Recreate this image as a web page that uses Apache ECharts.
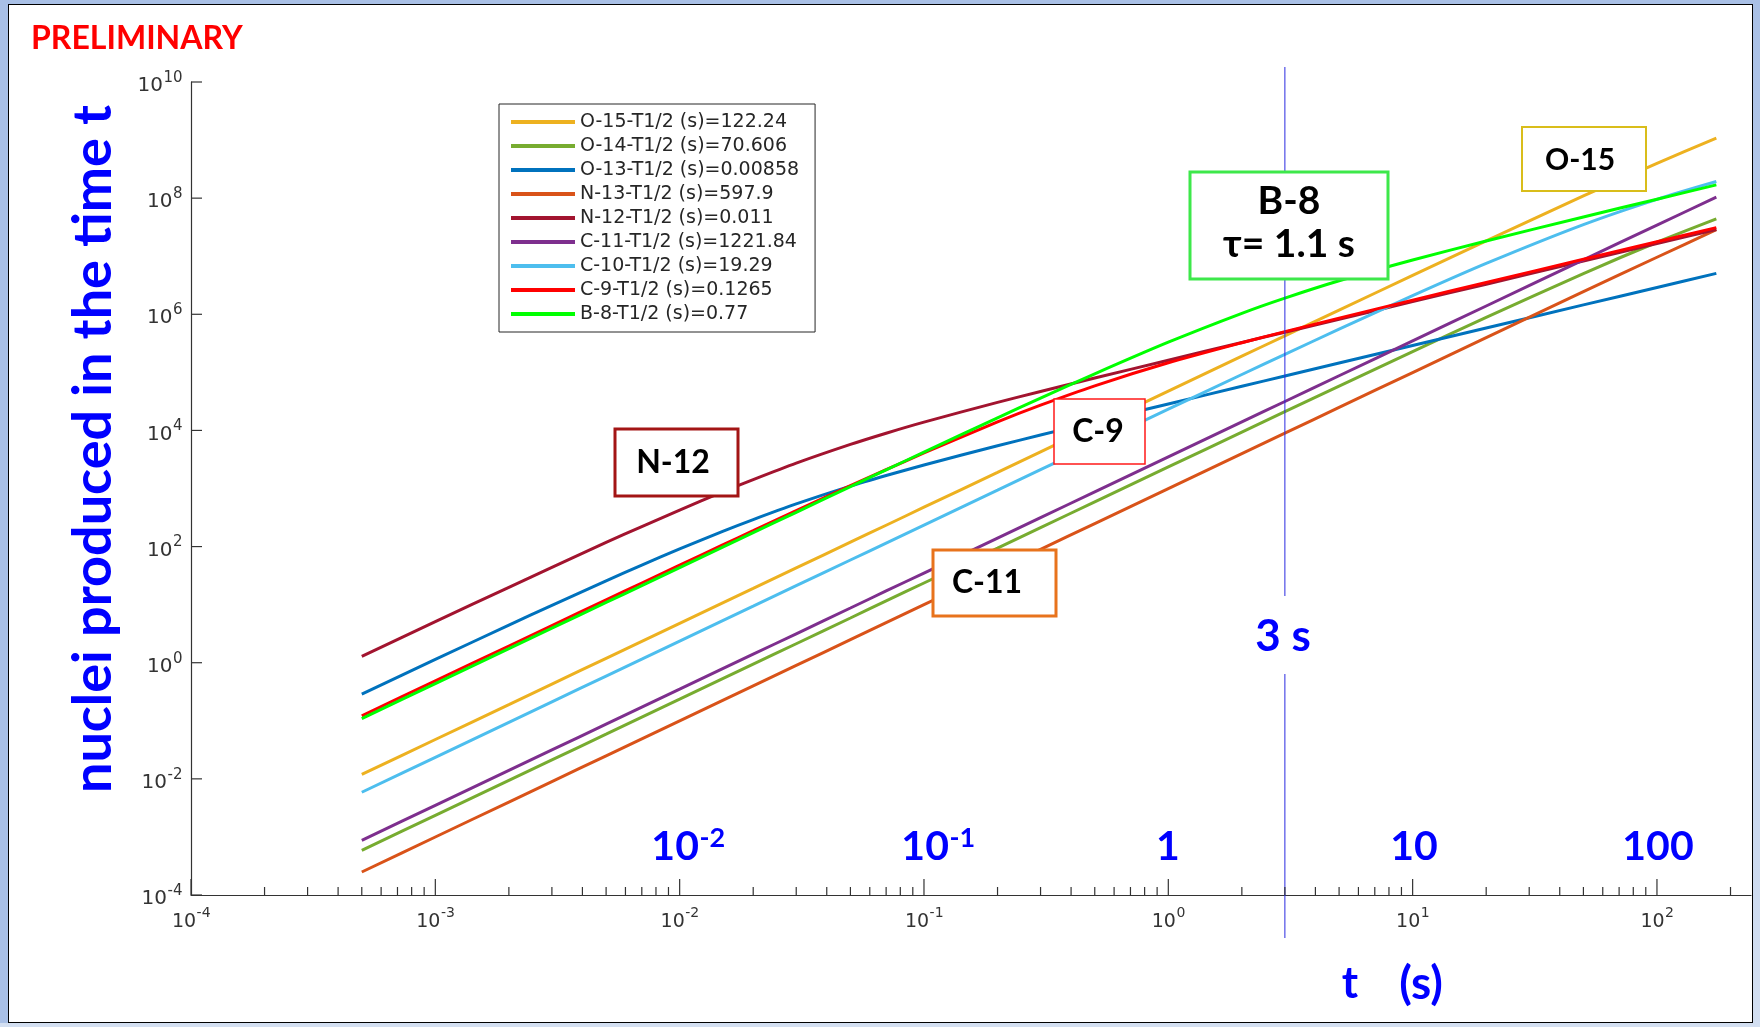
<!DOCTYPE html>
<html>
<head>
<meta charset="utf-8">
<script src="https://cdn.jsdelivr.net/npm/echarts@6/dist/echarts.min.js"></script>
<style>
html,body{margin:0;padding:0;width:1760px;height:1027px;overflow:hidden;background:#a9c0e6;}
#frame{position:absolute;left:8px;top:4px;width:1745px;height:1019px;box-sizing:border-box;background:#fff;border:1px solid #000;}
#bottomStrip{position:absolute;left:0;top:1023px;width:1760px;height:4px;background:#d3dff1;}
#rightStrip{position:absolute;left:1753px;top:0;width:7px;height:1027px;background:linear-gradient(#a9c0e6,#d3dff1);}
#chart{position:absolute;left:0;top:0;width:1760px;height:1027px;}
</style>
</head>
<body>
<div id="frame"></div>
<div id="bottomStrip"></div>
<div id="rightStrip"></div>
<div id="chart"></div>
<script>
// ---------------- data ----------------
const TIMES = [5e-4, 1e-3, 2e-3, 3e-3, 5e-3, 7e-3, 1e-2, 1.5e-2, 2e-2, 3e-2, 5e-2, 7e-2, 0.1, 0.2, 0.3, 0.5, 1, 2, 3, 5, 10, 20, 50, 100, 175];

const NAMES = [
  'O-15-T1/2 (s)=122.24',
  'O-14-T1/2 (s)=70.606',
  'O-13-T1/2 (s)=0.00858',
  'N-13-T1/2 (s)=597.9',
  'N-12-T1/2 (s)=0.011',
  'C-11-T1/2 (s)=1221.84',
  'C-10-T1/2 (s)=19.29',
  'C-9-T1/2 (s)=0.1265',
  'B-8-T1/2 (s)=0.77'
];

const O15 = [0.0119, 0.0476, 0.190, 0.429, 1.19, 2.33, 4.76, 10.7, 19.0, 42.9, 119, 233, 476, 1.90e3, 4.29e3, 1.19e4, 4.75e4, 1.90e5, 4.26e5, 1.18e6, 4.67e6, 1.84e7, 1.09e8, 3.98e8, 1.08e9];
const O14 = [5.89e-4, 2.36e-3, 9.43e-3, 0.0212, 0.0589, 0.116, 0.236, 0.530, 0.943, 2.12, 5.89, 11.6, 23.6, 94.2, 212, 588, 2.35e3, 9.36e3, 2.10e4, 5.80e4, 2.28e5, 8.84e5, 5.03e6, 1.74e7, 4.39e7];
const O13 = [0.289, 1.14, 4.44, 9.74, 25.7, 47.9, 91.0, 183, 292, 543, 1.10e3, 1.67e3, 2.54e3, 5.44e3, 8.34e3, 1.41e4, 2.86e4, 5.76e4, 8.66e4, 1.45e5, 2.90e5, 5.80e5, 1.45e6, 2.90e6, 5.07e6];
const N13 = [2.49e-4, 9.97e-4, 3.99e-3, 8.97e-3, 0.0249, 0.0489, 0.0997, 0.224, 0.399, 0.897, 2.49, 4.89, 9.97, 39.9, 89.7, 249, 997, 3.99e3, 8.96e3, 2.49e4, 9.93e4, 3.96e5, 2.45e6, 9.60e6, 2.86e7];
const N12 = [1.29, 5.09, 19.9, 44.0, 118, 221, 426, 874, 1.42e3, 2.73e3, 5.74e3, 8.96e3, 1.39e4, 3.04e4, 4.69e4, 7.99e4, 1.62e5, 3.27e5, 4.92e5, 8.22e5, 1.65e6, 3.30e6, 8.25e6, 1.65e7, 2.89e7];
const C11 = [8.75e-4, 3.5e-3, 0.014, 0.0315, 0.0875, 0.172, 0.35, 0.788, 1.40, 3.15, 8.75, 17.2, 35.0, 140, 315, 875, 3.50e3, 1.40e4, 3.15e4, 8.74e4, 3.49e5, 1.39e6, 8.67e6, 3.43e7, 1.04e8];
const C10 = [5.88e-3, 0.0235, 0.094, 0.212, 0.588, 1.15, 2.35, 5.29, 9.40, 21.2, 58.7, 115, 235, 938, 2.11e3, 5.84e3, 2.32e4, 9.18e4, 2.04e5, 5.54e5, 2.09e6, 7.50e6, 3.50e7, 9.54e7, 1.93e8];
const C9  = [0.122, 0.487, 1.94, 4.37, 12.1, 23.6, 47.9, 107, 188, 416, 1.12e3, 2.11e3, 4.09e3, 1.40e4, 2.72e4, 5.86e4, 1.46e5, 3.24e5, 5.02e5, 8.58e5, 1.75e6, 3.53e6, 8.87e6, 1.78e7, 3.11e7];
const B8  = [0.109, 0.437, 1.75, 3.93, 10.9, 21.3, 43.5, 97.8, 174, 389, 1.08e3, 2.09e3, 4.24e3, 1.65e4, 3.60e4, 9.45e4, 3.31e5, 1.04e6, 1.90e6, 3.78e6, 8.62e6, 1.83e7, 4.74e7, 9.59e7, 1.69e8];

const VALUES = [O15, O14, O13, N13, N12, C11, C10, C9, B8];

const X_DECADES = [1e-4, 1e-3, 1e-2, 1e-1, 1, 10, 100];
const X_DECADE_EXP = ['-4', '-3', '-2', '-1', '0', '1', '2'];
const X_MINOR_STEPS = [2, 3, 4, 5, 6, 7, 8, 9];
const Y_TICKS = [1e-4, 1e-2, 1, 1e2, 1e4, 1e6, 1e8, 1e10];
const Y_TICK_EXP = ['-4', '-2', '0', '2', '4', '6', '8', '10'];
const X_MIN = 1e-4, X_MAX = 242.6, Y_MIN = 1e-4, Y_MAX = 1e10;
const MARK_TIME = 3;   // the "3 s" marker line

// ---------------- styles ----------------
const COLORS = ['#EDB120', '#77AC30', '#0072BD', '#D95319', '#A2142F', '#7E2F8E', '#4DBEEE', '#FF0000', '#00FF00'];
const AXIS_COLOR = '#333333';
const BLUE = '#0000ff';
const SANS = 'DejaVu Sans';
const BIG = 'Lato';

const mctx = document.createElement('canvas').getContext('2d');
function fontStr(weight, size, family) { return weight + ' ' + size + 'px "' + family + '"'; }
function tw(text, weight, size, family) { mctx.font = fontStr(weight, size, family); return mctx.measureText(text).width; }

function txt(x, y, text, weight, size, family, fill, align, valign, extra) {
  return Object.assign({
    type: 'text', x: x, y: y,
    style: { text: text, font: fontStr(weight, size, family),
             fill: fill, align: align, textAlign: align,
             verticalAlign: valign, textVerticalAlign: valign }
  }, extra || {});
}

// base + superscript label; anchor = 'center' or 'right'
function supLabel(ax, cy, base, sup, weight, bs, ss, family, color, anchor, rise, extra) {
  const wb = tw(base, weight, bs, family), ws = tw(sup, weight, ss, family);
  const W = wb + ws;
  const left = anchor === 'center' ? ax - W / 2 : ax - W;
  return Object.assign({
    type: 'group',
    children: [
      txt(left, cy, base, weight, bs, family, color, 'left', 'middle'),
      txt(left + wb + 0.5, cy - rise, sup, weight, ss, family, color, 'left', 'middle')
    ]
  }, extra || {});
}

const xMinor = [];
X_DECADES.forEach(d => X_MINOR_STEPS.forEach(m => { if (d * m <= X_MAX) xMinor.push(d * m); }));

const lineSeries = NAMES.map((name, i) => ({
  name: name,
  type: 'line',
  data: TIMES.map((t, k) => [t, VALUES[i][k]]),
  showSymbol: false,
  symbol: 'none',
  smooth: 0.25,
  lineStyle: { width: 3, color: COLORS[i] },
  itemStyle: { color: COLORS[i] },
  z: 2 + i * 0.01,
  animation: false
}));

function tickSeries(data, dx, dy) {
  return {
    type: 'custom', coordinateSystem: 'cartesian2d', silent: true, clip: false, z: 5,
    data: data,
    renderItem: (params, api) => {
      const p = api.coord([api.value(0), api.value(1)]);
      return { type: 'line', shape: { x1: p[0], y1: p[1], x2: p[0] + dx, y2: p[1] + dy },
               style: { stroke: AXIS_COLOR, lineWidth: 1.2 } };
    }
  };
}
const xMajorTickSeries = tickSeries(X_DECADES.map(t => [t, Y_MIN]), 0, -16);
const xMinorTickSeries = tickSeries(xMinor.map(t => [t, Y_MIN]), 0, -8);
const yTickSeries = tickSeries(Y_TICKS.map(v => [X_MIN, v]), 11, 0);

const markSeries = {
  type: 'custom', coordinateSystem: 'cartesian2d', silent: true, clip: false, z: 3,
  data: [[MARK_TIME, 1]],
  renderItem: (params, api) => {
    const p = api.coord([api.value(0), api.value(1)]);
    const st = { stroke: '#2a2ae0', lineWidth: 1 };
    return { type: 'group', children: [
      { type: 'line', shape: { x1: p[0], y1: 67, x2: p[0], y2: 596 }, style: st },
      { type: 'line', shape: { x1: p[0], y1: 674, x2: p[0], y2: 938 }, style: st }
    ] };
  }
};

function box(x1, y1, x2, y2, color, lw) {
  return { type: 'rect', z: 100, shape: { x: x1, y: y1, width: x2 - x1, height: y2 - y1 },
           style: { fill: '#ffffff', stroke: color, lineWidth: lw } };
}
const Z = { z: 101 };
const graphics = [
  txt(31, 39, 'PRELIMINARY', 'bold', 32, BIG, '#ff0000', 'left', 'middle', Z),
  txt(94, 449, 'nuclei produced in the time t', 'bold', 54, BIG, BLUE, 'center', 'middle', { z: 101, rotation: Math.PI / 2 }),
  txt(1283, 637, '3 s', 'bold', 44, BIG, BLUE, 'center', 'middle', Z),
  txt(1350, 984, 't', 'bold', 44, BIG, BLUE, 'center', 'middle', Z),
  txt(1421, 984, '(s)', 'bold', 46, BIG, BLUE, 'center', 'middle', Z),
  supLabel(688, 847, '10', '-2', 'bold', 41, 27, BIG, BLUE, 'center', 9, Z),
  supLabel(938, 847, '10', '-1', 'bold', 41, 27, BIG, BLUE, 'center', 9, Z),
  txt(1168, 847, '1', 'bold', 41, BIG, BLUE, 'center', 'middle', Z),
  txt(1414, 847, '10', 'bold', 41, BIG, BLUE, 'center', 'middle', Z),
  txt(1658, 847, '100', 'bold', 41, BIG, BLUE, 'center', 'middle', Z),
  // annotation boxes
  box(615, 429, 738, 496, '#a31515', 3),
  txt(673, 463, 'N-12', 'bold', 32, BIG, '#000', 'center', 'middle', Z),
  box(1054, 399, 1145, 464, '#ff1a1a', 1.5),
  txt(1098, 432, 'C-9', 'bold', 32, BIG, '#000', 'center', 'middle', Z),
  box(933, 550, 1056, 616, '#e8731c', 3),
  txt(987, 583, 'C-11', 'bold', 32, BIG, '#000', 'center', 'middle', Z),
  box(1190, 172, 1388, 279, '#3de84a', 3),
  txt(1289, 201, 'B-8', 'bold', 39, BIG, '#000', 'center', 'middle', Z),
  txt(1289, 244, '\u03c4= 1.1 s', 'bold', 39, BIG, '#000', 'center', 'middle', Z),
  box(1522, 127, 1646, 191, '#d9bd1a', 2),
  txt(1580, 160, 'O-15', 'bold', 30, BIG, '#000', 'center', 'middle', Z)
];

const chart = echarts.init(document.getElementById('chart'), null, { renderer: 'canvas' });
chart.setOption({
  animation: false,
  backgroundColor: 'transparent',
  grid: { left: 191, top: 82, width: 1560, height: 813, containLabel: false, outerBoundsMode: 'none' },
  xAxis: {
    type: 'log', logBase: 10, min: X_MIN, max: X_MAX,
    axisLine: { show: true, lineStyle: { color: AXIS_COLOR, width: 1.2 } },
    axisTick: { show: false }, axisLabel: { show: false },
    splitLine: { show: false }, minorTick: { show: false }, minorSplitLine: { show: false }
  },
  yAxis: {
    type: 'log', logBase: 10, min: Y_MIN, max: Y_MAX,
    axisLine: { show: true, lineStyle: { color: AXIS_COLOR, width: 1.2 } },
    axisTick: { show: false }, axisLabel: { show: false },
    splitLine: { show: false }, minorTick: { show: false }, minorSplitLine: { show: false }
  },
  legend: {
    show: true, orient: 'vertical', left: 499, top: 104,
    data: NAMES, icon: 'rect', itemWidth: 64, itemHeight: 4, itemGap: 4,
    padding: [8, 16, 8, 12],
    backgroundColor: '#ffffff', borderColor: '#262626', borderWidth: 1, borderRadius: 0,
    textStyle: { fontFamily: SANS, fontSize: 19, color: '#262626', lineHeight: 20 },
    selectedMode: false, z: 10
  },
  series: lineSeries.concat([markSeries, xMajorTickSeries, xMinorTickSeries, yTickSeries])
});

// tick labels, placed through the chart's own axis scales
const tickLabels = [];
X_DECADES.forEach((t, i) => {
  const p = chart.convertToPixel({ gridIndex: 0 }, [t, Y_MIN]);
  tickLabels.push(supLabel(p[0], p[1] + 27, '10', X_DECADE_EXP[i], 'normal', 19, 14, SANS, AXIS_COLOR, 'center', 8.5, { z: 50 }));
});
Y_TICKS.forEach((v, i) => {
  const p = chart.convertToPixel({ gridIndex: 0 }, [X_MIN, v]);
  tickLabels.push(supLabel(p[0] - 9, p[1] + 4, '10', Y_TICK_EXP[i], 'normal', 20, 15, SANS, AXIS_COLOR, 'right', 8, { z: 50 }));
});

chart.setOption({ graphic: graphics.concat(tickLabels) });
</script>
</body>
</html>
